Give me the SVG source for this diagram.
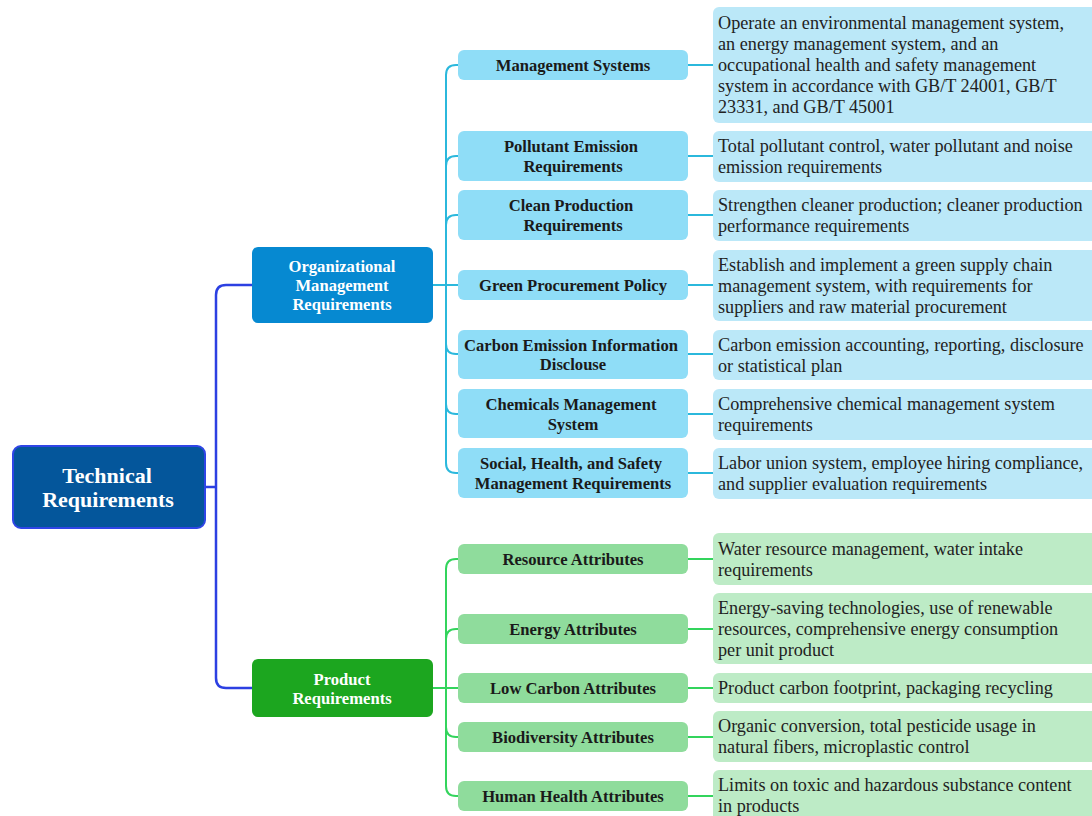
<svg xmlns="http://www.w3.org/2000/svg" width="1092" height="816" viewBox="0 0 1092 816">
<style>
.root{fill:#04569b;stroke:#2f45e6;stroke-width:2}
.l1o{fill:#0689d1}
.l1p{fill:#1ca61f}
.co{fill:#8fddf7}
.cp{fill:#8fdc9c}
.lo{fill:#bbe8f8}
.lp{fill:#bdebc6}
.tw{font-family:"Liberation Serif",serif;font-weight:bold;fill:#fff;text-anchor:middle;dominant-baseline:central}
.tc{font-family:"Liberation Serif",serif;font-weight:bold;fill:#1a1a1a;font-size:16.6px;text-anchor:middle;dominant-baseline:central}
.tl{font-family:"Liberation Serif",serif;fill:#222;font-size:18.2px;dominant-baseline:central}
.cb{fill:none;stroke:#2c40e2;stroke-width:2.5}
.cc{fill:none;stroke:#2bb8dc;stroke-width:2}
.cg{fill:none;stroke:#33d45c;stroke-width:2}
</style>
<rect width="1092" height="816" fill="#fff"/>
<g id="connectors">
<path class="cb" d="M205,487 H216 M216,487 V295 Q216,285 226,285 H252 M216,487 V678 Q216,688 226,688 H252"/>
<path class="cc" d="M433,285 H446 M446,285 V75 Q446,65 456,65 H458 M446,285 V463 Q446,473 456,473 H458 M446,166 Q446,156 456,156 H458 M446,225 Q446,215 456,215 H458 M446,285 H458 M446,344 Q446,354 456,354 H458 M446,404 Q446,414 456,414 H458"/>
<path class="cc" d="M688,65 H713 M688,156 H713 M688,215 H713 M688,285 H713 M688,354 H713 M688,414 H713 M688,473 H713"/>
<path class="cg" d="M433,688 H446 M446,688 V569 Q446,559 456,559 H458 M446,688 V786 Q446,796 456,796 H458 M446,639 Q446,629 456,629 H458 M446,688 H458 M446,727 Q446,737 456,737 H458"/>
<path class="cg" d="M688,559 H713 M688,629 H713 M688,688 H713 M688,737 H713 M688,796 H713"/>
</g>
<g id="root">
<rect class="root" x="13" y="446" width="192" height="82" rx="8"/>
<text class="tw" font-size="22" x="107" y="475">Technical</text>
<text class="tw" font-size="22" x="108" y="499">Requirements</text>
</g>
<g id="org">
<rect class="l1o" x="252" y="247" width="181" height="76" rx="6"/>
<text class="tw" font-size="16.6" x="342" y="266">Organizational</text>
<text class="tw" font-size="16.6" x="342" y="285">Management</text>
<text class="tw" font-size="16.6" x="342" y="304">Requirements</text>
</g>
<g id="product">
<rect class="l1p" x="252" y="659" width="181" height="58" rx="6"/>
<text class="tw" font-size="16.6" x="342" y="679">Product</text>
<text class="tw" font-size="16.6" x="342" y="698">Requirements</text>
</g>
<g id="c1"><rect class="co" x="458" y="50" width="230" height="30" rx="6"/><text class="tc" x="573" y="65">Management Systems</text></g>
<g id="c2"><rect class="co" x="458" y="131" width="230" height="50" rx="6"/><text class="tc" x="571" y="146">Pollutant Emission</text><text class="tc" x="573" y="166">Requirements</text></g>
<g id="c3"><rect class="co" x="458" y="190" width="230" height="50" rx="6"/><text class="tc" x="571" y="205">Clean Production</text><text class="tc" x="573" y="225">Requirements</text></g>
<g id="c4"><rect class="co" x="458" y="270" width="230" height="30" rx="6"/><text class="tc" x="573" y="285">Green Procurement Policy</text></g>
<g id="c5"><rect class="co" x="458" y="330" width="230" height="49" rx="6"/><text class="tc" x="571" y="345">Carbon Emission Information</text><text class="tc" x="573" y="364">Disclouse</text></g>
<g id="c6"><rect class="co" x="458" y="389" width="230" height="49" rx="6"/><text class="tc" x="571" y="404">Chemicals Management</text><text class="tc" x="573" y="424">System</text></g>
<g id="c7"><rect class="co" x="458" y="448" width="230" height="50" rx="6"/><text class="tc" x="571" y="463">Social, Health, and Safety</text><text class="tc" x="573" y="483">Management Requirements</text></g>
<g id="l1"><rect class="lo" x="713" y="7" width="385" height="116" rx="6"/>
<text class="tl" x="718" y="23">Operate an environmental management system,</text>
<text class="tl" x="718" y="44">an energy management system, and an</text>
<text class="tl" x="718" y="65">occupational health and safety management</text>
<text class="tl" x="718" y="86">system in accordance with GB/T 24001, GB/T</text>
<text class="tl" x="718" y="107">23331, and GB/T 45001</text></g>
<g id="l2"><rect class="lo" x="713" y="131" width="385" height="51" rx="6"/>
<text class="tl" x="718" y="146">Total pollutant control, water pollutant and noise</text>
<text class="tl" x="718" y="167">emission requirements</text></g>
<g id="l3"><rect class="lo" x="713" y="190" width="385" height="51" rx="6"/>
<text class="tl" x="718" y="205">Strengthen cleaner production; cleaner production</text>
<text class="tl" x="718" y="226">performance requirements</text></g>
<g id="l4"><rect class="lo" x="713" y="250" width="385" height="71" rx="6"/>
<text class="tl" x="718" y="265">Establish and implement a green supply chain</text>
<text class="tl" x="718" y="286">management system, with requirements for</text>
<text class="tl" x="718" y="307">suppliers and raw material procurement</text></g>
<g id="l5"><rect class="lo" x="713" y="330" width="385" height="50" rx="6"/>
<text class="tl" x="718" y="345">Carbon emission accounting, reporting, disclosure</text>
<text class="tl" x="718" y="366">or statistical plan</text></g>
<g id="l6"><rect class="lo" x="713" y="389" width="385" height="51" rx="6"/>
<text class="tl" x="718" y="404">Comprehensive chemical management system</text>
<text class="tl" x="718" y="425">requirements</text></g>
<g id="l7"><rect class="lo" x="713" y="448" width="385" height="51" rx="6"/>
<text class="tl" x="718" y="463">Labor union system, employee hiring compliance,</text>
<text class="tl" x="718" y="484">and supplier evaluation requirements</text></g>
<g id="p1"><rect class="cp" x="458" y="544" width="230" height="30" rx="6"/><text class="tc" x="573" y="559">Resource Attributes</text></g>
<g id="p2"><rect class="cp" x="458" y="614" width="230" height="30" rx="6"/><text class="tc" x="573" y="629">Energy Attributes</text></g>
<g id="p3"><rect class="cp" x="458" y="673" width="230" height="30" rx="6"/><text class="tc" x="573" y="688">Low Carbon Attributes</text></g>
<g id="p4"><rect class="cp" x="458" y="722" width="230" height="30" rx="6"/><text class="tc" x="573" y="737">Biodiversity Attributes</text></g>
<g id="p5"><rect class="cp" x="458" y="781" width="230" height="30" rx="6"/><text class="tc" x="573" y="796">Human Health Attributes</text></g>
<g id="pl1"><rect class="lp" x="713" y="533" width="385" height="52" rx="6"/>
<text class="tl" x="718" y="549">Water resource management, water intake</text>
<text class="tl" x="718" y="570">requirements</text></g>
<g id="pl2"><rect class="lp" x="713" y="593" width="385" height="71" rx="6"/>
<text class="tl" x="718" y="608">Energy-saving technologies, use of renewable</text>
<text class="tl" x="718" y="629">resources, comprehensive energy consumption</text>
<text class="tl" x="718" y="650">per unit product</text></g>
<g id="pl3"><rect class="lp" x="713" y="673" width="385" height="30" rx="6"/>
<text class="tl" x="718" y="688">Product carbon footprint, packaging recycling</text></g>
<g id="pl4"><rect class="lp" x="713" y="711" width="385" height="51" rx="6"/>
<text class="tl" x="718" y="726">Organic conversion, total pesticide usage in</text>
<text class="tl" x="718" y="747">natural fibers, microplastic control</text></g>
<g id="pl5"><rect class="lp" x="713" y="770" width="385" height="56" rx="6"/>
<text class="tl" x="718" y="785">Limits on toxic and hazardous substance content</text>
<text class="tl" x="718" y="806">in products</text></g>
</svg>
